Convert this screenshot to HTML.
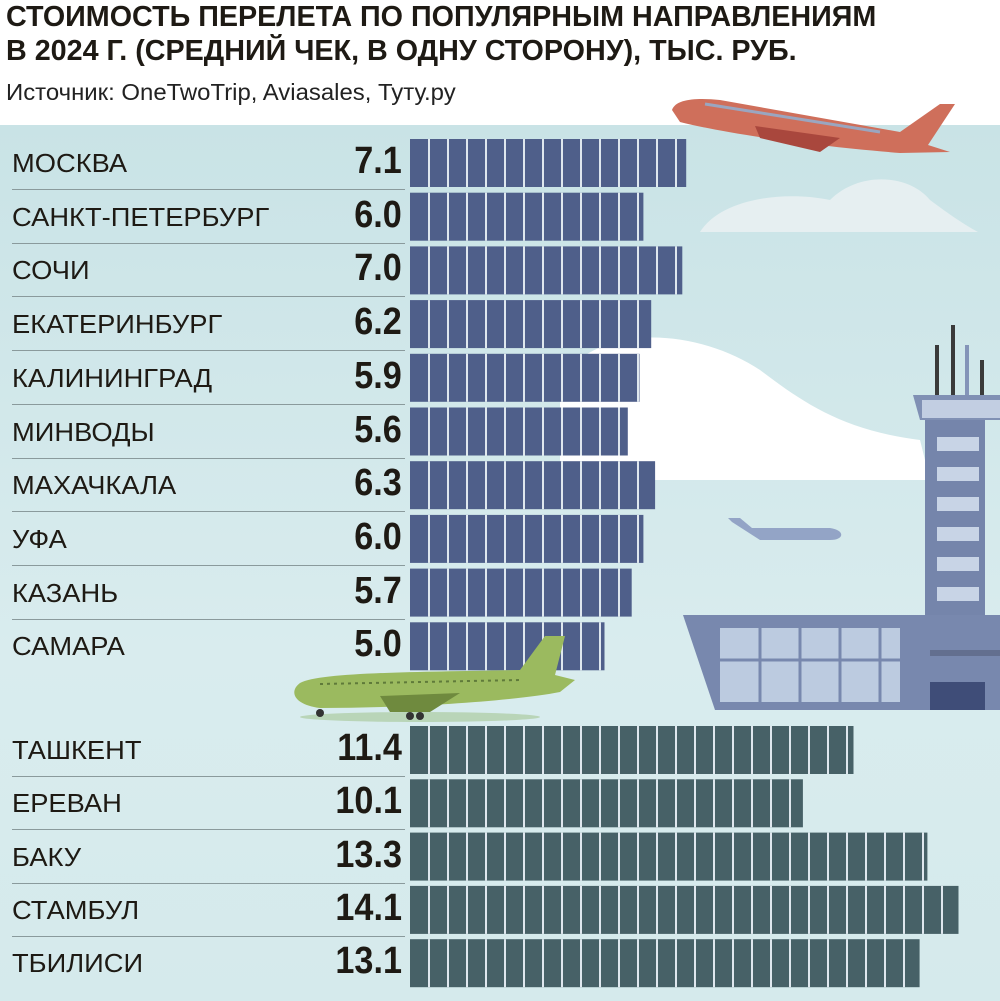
<!DOCTYPE html>
<html><head><meta charset="utf-8">
<style>
body{margin:0;width:1000px;height:1001px;overflow:hidden;background:#fff;font-family:"Liberation Sans","Noto Sans CJK SC",sans-serif;position:relative}
.t{position:absolute;left:6px;font-weight:bold;font-size:29px;color:#1e1a14;transform-origin:0 0;transform:scaleX(0.99);white-space:nowrap}
.src{position:absolute;left:6px;top:79px;font-size:23px;color:#222;transform-origin:0 0;transform:scaleX(1.04);white-space:nowrap}
.bg{position:absolute;left:0;top:125px;width:1000px;height:876px;background:linear-gradient(180deg,#c9e3e6 0%,#d9ecee 60%,#d5eaec 100%)}
svg{position:absolute;left:0;top:0}
.lab{position:absolute;left:12px;font-size:26px;color:#1e1a14;transform-origin:0 50%;transform:scaleX(1.05);white-space:nowrap}
.val{position:absolute;right:598px;font-size:38px;font-weight:bold;color:#1e1a14;transform-origin:100% 50%;transform:scaleX(0.9);white-space:nowrap}
.sep{position:absolute;left:12px;width:393px;height:1px;background:#8a9a9c}
</style></head><body>
<div class="t" style="top:1px">СТОИМОСТЬ ПЕРЕЛЕТА ПО ПОПУЛЯРНЫМ НАПРАВЛЕНИЯМ</div>
<div class="t" style="top:35px">В 2024 Г. (СРЕДНИЙ ЧЕК, В ОДНУ СТОРОНУ), ТЫС. РУБ.</div>
<div class="src">Источник: OneTwoTrip, Aviasales, Туту.ру</div>
<div class="bg"></div>
<svg width="1000" height="1001">
 <path d="M700,232 C720,200 780,190 830,200 C860,170 910,175 930,200 C950,215 965,225 978,232 Z" fill="#e6eff1"/>
 <path d="M560,480 L560,380 C600,320 700,330 760,370 C800,400 840,430 920,440 L930,480 Z" fill="#ffffff"/>
 <path d="M672,110 C676,98 700,98 720,100 L900,132 L940,104 L955,104 L928,145 L950,152 L900,153 C800,145 720,132 680,122 Z" fill="#cf6f5b"/>
 <path d="M755,126 L840,138 L820,152 L760,138 Z" fill="#a9473d"/>
 <path d="M705,104 L880,132" stroke="#9aa6c0" stroke-width="3"/>
 <path d="M728,518 L740,518 L752,528 L830,528 C845,530 845,540 830,540 L760,540 L732,522 Z" fill="#93a4c6"/>
 <rect x="935" y="345" width="4" height="50" fill="#3a3a3a"/>
 <rect x="951" y="325" width="4" height="70" fill="#3a3a3a"/>
 <rect x="965" y="345" width="4" height="50" fill="#8494b8"/>
 <rect x="980" y="360" width="4" height="35" fill="#3a3a3a"/>
 <path d="M913,395 L1000,395 L1000,420 L920,420 Z" fill="#8090b4"/>
 <rect x="922" y="400" width="78" height="18" fill="#c2cee2"/>
 <rect x="925" y="420" width="60" height="195" fill="#7585ab"/>
 <g fill="#c8d4e6">
  <rect x="937" y="437" width="42" height="14"/><rect x="937" y="467" width="42" height="14"/>
  <rect x="937" y="497" width="42" height="14"/><rect x="937" y="527" width="42" height="14"/>
  <rect x="937" y="557" width="42" height="14"/><rect x="937" y="587" width="42" height="14"/>
 </g>
 <path d="M683,615 L1000,615 L1000,710 L715,710 Z" fill="#7888ae"/>
 <rect x="720" y="628" width="180" height="74" fill="#bccbe0"/>
 <g stroke="#7888ae" stroke-width="3"><line x1="760" y1="628" x2="760" y2="702"/><line x1="800" y1="628" x2="800" y2="702"/><line x1="840" y1="628" x2="840" y2="702"/><line x1="880" y1="628" x2="880" y2="702"/><line x1="720" y1="660" x2="900" y2="660"/></g>
 <rect x="930" y="650" width="70" height="6" fill="#636f8f"/>
 <rect x="930" y="682" width="55" height="28" fill="#3f4d78"/>
</svg>
<svg width="1000" height="1001" id="bars"></svg>
<svg width="1000" height="1001">
 <ellipse cx="420" cy="717" rx="120" ry="5" fill="#b9d5b8"/>
 <path d="M300,683 C320,672 420,672 520,670 L545,636 L565,636 L555,675 L575,680 L560,692 C520,700 420,708 320,708 C295,705 288,692 300,683 Z" fill="#9bba5f"/>
 <path d="M380,696 L460,693 L430,712 L390,712 Z" fill="#6f8a3e"/>
 <circle cx="320" cy="713" r="4" fill="#333"/><circle cx="410" cy="716" r="4" fill="#333"/><circle cx="420" cy="716" r="4" fill="#333"/>
 <line x1="320" y1="684" x2="520" y2="680" stroke="#5f7a3a" stroke-width="2" stroke-dasharray="3,4"/>
</svg>
<div id="rows"></div>
<script>
var topData=[["МОСКВА",7.1],["САНКТ-ПЕТЕРБУРГ",6.0],["СОЧИ",7.0],["ЕКАТЕРИНБУРГ",6.2],["КАЛИНИНГРАД",5.9],["МИНВОДЫ",5.6],["МАХАЧКАЛА",6.3],["УФА",6.0],["КАЗАНЬ",5.7],["САМАРА",5.0]];
var botData=[["ТАШКЕНТ",11.4],["ЕРЕВАН",10.1],["БАКУ",13.3],["СТАМБУЛ",14.1],["ТБИЛИСИ",13.1]];
var s="",h="";
function row(n,v,cy,col,sepOn){
 var w=v*38.9, y=cy-24;
 s+='<rect x="410" y="'+y+'" width="'+w.toFixed(1)+'" height="48" fill="'+col+'"/>';
 for(var x=429;x<410+w;x+=19) s+='<rect x="'+(x-1)+'" y="'+y+'" width="2" height="48" fill="#dfe7ee"/>';
 h+='<div class="lab" style="top:'+(cy-15)+'px">'+n+'</div>';
 h+='<div class="val" style="top:'+(cy-23)+'px">'+v.toFixed(1)+'</div>';
 if(sepOn) h+='<div class="sep" style="top:'+(cy+26)+'px"></div>';
}
topData.forEach(function(r,i){row(r[0],r[1],163+i*53.7,"#4f5f8a",i<9);});
botData.forEach(function(r,i){row(r[0],r[1],750+i*53.3,"#476167",i<4);});
document.getElementById("bars").innerHTML=s;
document.getElementById("rows").innerHTML=h;
</script>
</body></html>
